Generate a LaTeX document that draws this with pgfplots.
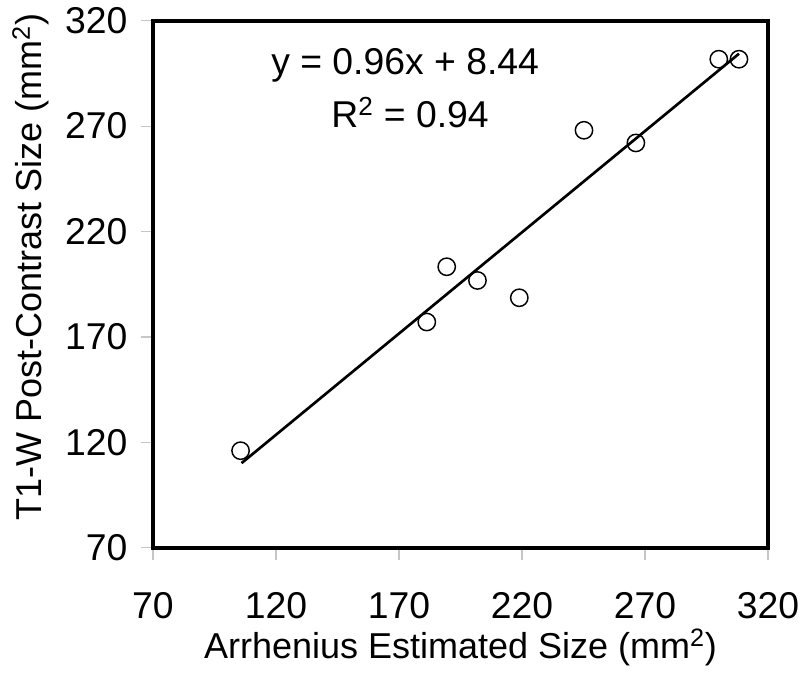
\documentclass[border=0pt]{standalone}
\usepackage{fontspec}
\setmainfont{Liberation Sans}
\usepackage{pgfplots}
\pgfplotsset{compat=1.18}
\begin{document}
\begin{tikzpicture}
\begin{axis}[name=ax, scale only axis, width=461.25pt, height=395.5pt,
  xmin=70, xmax=320, ymin=70, ymax=320,
  xtick={70,120,...,320}, ytick={70,120,...,320},
  xtick pos=bottom, ytick pos=left,
  axis line style={line width=3pt, black},
  tick align=outside, major tick length=9pt,
  tick style={gray!45, line width=0.8pt},
  /pgf/number format/assume math mode=true,
  every tick label/.append style={font=\fontsize{28}{32}\selectfont},
  xticklabel style={anchor=north, inner sep=0pt, yshift=-24pt},
  yticklabel style={anchor=east, inner sep=0pt, xshift=-10pt},
  xlabel={Arrhenius Estimated Size (mm\textsuperscript{2})},
  ylabel={T1-W Post-Contrast Size (mm\textsuperscript{2})},
  xlabel style={at={(axis description cs:0.5,-0.2105)}, anchor=base, font=\fontsize{27}{32}\selectfont},
  ylabel style={at={(axis description cs:-0.1805,0.533)}, anchor=base, rotate=0, font=\fontsize{27}{32}\selectfont},
  clip=false,
]
\addplot[black, line width=2pt] coordinates {(106,110.2) (308.2,304.3)};
\addplot[only marks, mark=o, mark size=6.5pt, mark options={line width=1.1pt, black}] coordinates {
  (105.6,116.1) (181.3,177.1) (189.4,203.3) (201.9,196.8) (218.9,188.6)
  (245.2,268.0) (266.3,262.0) (300.0,301.7) (308.2,301.7)
};
\node[anchor=base, font=\fontsize{28}{32}\selectfont] at (axis description cs:0.410,0.897) {y = 0.96x + 8.44};
\node[anchor=base, font=\fontsize{28}{32}\selectfont] at (axis description cs:0.418,0.798) {R\textsuperscript{2} = 0.94};
\end{axis}
\pgfresetboundingbox
\path ([shift={(-114.75pt,-93.75pt)}]ax.south west) rectangle ([shift={(29.25pt,15.45pt)}]ax.north east);
\end{tikzpicture}
\end{document}
